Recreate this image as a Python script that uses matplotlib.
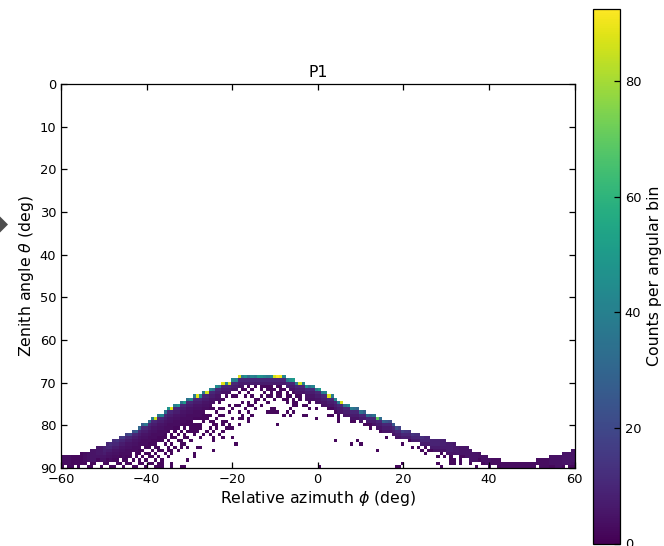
import numpy as np
import matplotlib
matplotlib.use("Agg")
import matplotlib.pyplot as plt
from matplotlib.patches import Polygon

W, H = 664, 546
BIN = 0.75
VMAX = 92.5

x_ticks = [-60, -40, -20, 0, 20, 40, 60]
y_ticks = [0, 10, 20, 30, 40, 50, 60, 70, 80, 90]
cbar_ticks = [0, 20, 40, 60, 80]

# first occupied zenith row (row = theta / 0.75) for each azimuth column
top_row = [116,116,116,116,116,116,115,115,115,114,114,113,113,113,112,112,
           111,111,110,110,109,109,108,108,107,106,106,105,104,104,103,103,
           102,101,101,100,100,99,99,98,98,97,97,97,96,96,95,95,
           94,94,93,93,93,92,92,91,91,91,91,91,91,91,91,91,
           91,91,91,91,91,91,92,92,92,93,93,93,94,94,94,95,
           95,96,96,97,97,98,99,99,100,100,101,101,101,102,102,103,
           103,103,104,104,105,105,105,106,107,107,108,108,108,109,109,109,
           110,110,110,111,111,111,111,111,112,112,112,113,113,113,113,114,
           115,115,115,116,116,117,117,117,117,118,118,118,118,118,118,118,
           118,118,118,118,117,117,117,117,116,116,116,116,115,115,115,114]

# contiguous filled rows below the first one
solid_depth = [2,2,2,2,2,2,2,2, 2,3,3,3,4,4,4,5,
               5,5,5,6,6,6,6,6, 6,6,7,7,6,7,7,7,
               7,7,6,7,6,7,7,7, 6,6,6,6,6,5,5,4,
               4,4,3,3,3,3,3,3, 3,2,2,2,2,2,2,2,
               2,2,2,2,2,2,2,3, 3,3,3,3,4,4,4,4,
               4,4,4,3,3,3,3,3, 3,3,3,3,3,3,2,2,
               2,3,3,3,3,3,3,3, 3,3,2,2,2,2,2,2,
               2,2,2,2,3,3,3,3, 3,3,3,2,2,2,3,3,
               2,2,1,1,2,2,1,1, 1,1,1,1,1,1,1,1,
               1,1,1,1,1,2,2,2, 2,2,3,3,3,3,3,4]

# counts in the first occupied cell of each column
edge_counts = [3,3,3,2,2,2,2,3,4,5,5,6,6,8,10,12,
               12,14,15,16,18,20,24,26,30,28,36,32,40,85,36,42,
               34,48,88,40,46,36,50,34,42,38,88,44,38,86,42,34,
               46,38,88,42,86,42,40,88,38,46,34,42,38,50,46,42,
               38,42,86,92,90,42,38,46,50,38,86,42,46,34,42,38,
               50,38,42,88,38,42,38,86,34,42,38,34,30,34,28,32,
               28,34,70,32,28,25,22,25,22,18,18,15,14,14,12,12,
               12,10,10,9,9,9,8,8,7,7,6,6,5,5,5,5,
               5,5,4,4,4,4,3,3,3,3,3,3,3,3,3,3,
               3,3,3,3,3,3,3,3,4,4,4,4,5,5,5,5]

# typical counts going down the solid band, after the first cell
band_counts = [10, 7, 5, 4, 3, 3, 2, 2, 2, 2, 2]

sparse_count = 2

# isolated occupied cells below the band: (row, columns)
sparse_cells = [
    (93, [58,59,60,62,63,65,66,68,69,70]),
    (94, [56,58,60,62,63,64,65,67,68,70,71,72,74,75]),
    (95, [54,56,57,59,62,64,65,66,68,69,71,73,74,75]),
    (96, [52,55,58,63,65,67,68,70,72,73,75,76,77,78]),
    (97, [51,53,54,57,59,62,64,65,67,68,70,71,73,74,76,77,79,80]),
    (98, [50,60,61,63,66,69,70,72,74,76,77,78,80,81,82,83]),
    (99, [49,56,58,60,64,70,72,73,77,79,81,82,84]),
    (100, [52,54,55,58,59,62,72,73,75,76,81,82,83,85,86,87]),
    (101, [46,47,49,50,53,57,60,65,66,71,77,79,83,84,87,88]),
    (102, [48,52,55,58,64,65,66,67,70,72,85,86,88,89]),
    (103, [44,45,46,49,50,56,59,69,71,75,76,83,84,86,89,90,91]),
    (104, [40,41,42,43,44,45,48,53,55,56,58,79,86,90,92]),
    (105, [36,37,38,40,44,46,47,50,51,58,86,90,91,93]),
    (106, [33,34,36,37,39,40,41,42,43,47,48,50,52,55,67,94,95,96,97]),
    (107, [30,32,33,34,36,38,40,41,42,43,46,48,51,52,53,96,98,99,100,102,103]),
    (108, [28,29,31,33,35,37,39,40,41,42,45,47,50,99,101,104,105,106]),
    (109, [27,29,30,32,34,36,38,41,44,46,49,103,105,107,109]),
    (110, [25,26,28,31,32,34,35,38,39,43,47,50,53,101,106,110,112]),
    (111, [24,25,27,28,30,31,33,36,37,40,47,85,92,108,111,113,115]),
    (112, [22,23,25,26,28,29,32,34,37,38,54,90,93,106,112,114,116]),
    (113, [20,21,23,24,26,27,29,30,33,35,37,39,42,43,109,111,113,116,118]),
    (114, [19,20,22,24,25,28,30,31,33,34,36,47,98,112,114,115,117,119,120]),
    (115, [16,17,19,21,23,24,26,27,29,32,34,41,113,118,120,122,123]),
    (116, [14,15,17,18,20,21,23,25,27,28,30,33,41,117,119,121,124,125]),
    (117, [11,12,14,16,17,19,20,22,24,26,29,31,39,121,122,124,127,128,130]),
    (118, [0,1,3,6,7,9,10,13,14,17,18,20,21,24,25,27,28,30,31,34,106,117,
           121,122,124,127,131,132,135,138,139,141,143,146,147,148,151,154,157,158]),
    (119, [0,2,3,5,8,9,12,15,16,19,22,23,26,29,30,31,34,37,38,80,104,105,118,
           129,136,137,139,140,142,144,145,147,149,150,152,153,155,156,158,159]),
]

counts = np.zeros((120, 160))
for col, (top, depth, edge) in enumerate(zip(top_row, solid_depth, edge_counts)):
    counts[top, col] = edge
    for k in range(depth):
        if top + 1 + k < 120:
            counts[top + 1 + k, col] = min(edge, band_counts[min(k, len(band_counts) - 1)])
for row, cols in sparse_cells:
    for col in cols:
        if counts[row, col] == 0:
            counts[row, col] = sparse_count

phi_edges = -60 + BIN * np.arange(161)
theta_edges = BIN * np.arange(121)

fig = plt.figure(figsize=(W / 100, H / 100), dpi=100)


def box(x0, y0, x1, y1):
    return [x0 / W, 1 - y1 / H, (x1 - x0) / W, (y1 - y0) / H]


ax = fig.add_axes(box(61, 84, 574.5, 468))
mesh = ax.pcolormesh(phi_edges, theta_edges, np.ma.masked_equal(counts, 0),
                     cmap="viridis", vmin=0, vmax=VMAX, linewidth=0)
ax.set_xlim(-60, 60)
ax.set_ylim(90, 0)
ax.set_xticks(x_ticks)
ax.set_yticks(y_ticks)
ax.tick_params(direction="in", top=True, right=True, length=4.4, width=0.9,
               labelsize=9.4, pad=3.5)
for s in ax.spines.values():
    s.set_linewidth(0.9)
ax.set_xlabel(r"Relative azimuth $\phi$ (deg)", fontsize=11.3, labelpad=2.5)
ax.set_ylabel(r"Zenith angle $\theta$ (deg)", fontsize=11.3, labelpad=2.5)
ax.set_title("P1", fontsize=11.3, pad=5)

cax = fig.add_axes(box(593, 9, 620, 543.5))
cb = fig.colorbar(mesh, cax=cax)
cb.set_ticks(cbar_ticks)
cb.ax.tick_params(direction="in", length=4.4, width=0.9, labelsize=9.4, pad=3.5)
cb.outline.set_linewidth(0.9)
cb.set_label("Counts per angular bin", fontsize=11.3, labelpad=4)

fig.add_artist(Polygon([(-8 / W, 1 - 224.5 / H), (0, 1 - 216.5 / H),
                        (8 / W, 1 - 224.5 / H), (0, 1 - 232.5 / H)],
                       closed=True, transform=fig.transFigure,
                       facecolor="#4d4d4d", edgecolor="none", clip_on=False))

fig.savefig("out.png", dpi=100)
